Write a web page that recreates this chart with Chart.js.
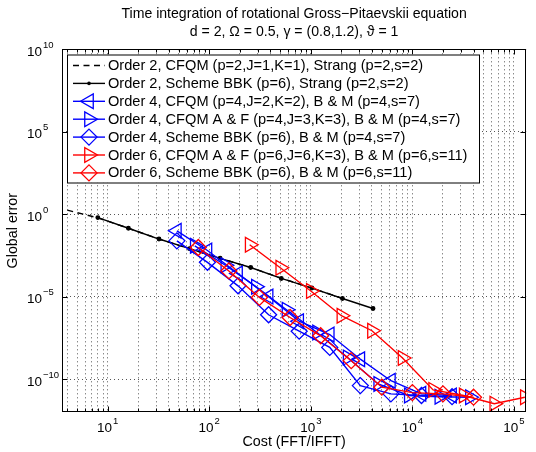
<!DOCTYPE html>
<html>
<head>
<script src="https://cdn.jsdelivr.net/npm/chart.js@4.4.0/dist/chart.umd.min.js"></script>
<style>
  body { margin: 0; background: #fff; }
  .wrap { width: 536px; height: 452px; position: relative; }
</style>
</head>
<body>
<div class="wrap"><canvas id="c"></canvas></div>
<script>
const FONT = '"Liberation Sans", Arial, Helvetica, sans-serif';

const titleLines = ['Time integration of rotational Gross\u2212Pitaevskii equation',
                    'd = 2, \u03A9 = 0.5, \u03B3 = (0.8,1.2), \u03D1 = 1'];
const xTitle = 'Cost (FFT/IFFT)';
const yTitle = 'Global error';

const seriesNames = [
  'Order 2, CFQM (p=2,J=1,K=1), Strang (p=2,s=2)',
  'Order 2, Scheme BBK (p=6), Strang (p=2,s=2)',
  'Order 4, CFQM (p=4,J=2,K=2), B & M (p=4,s=7)',
  'Order 4, CFQM A & F (p=4,J=3,K=3), B & M (p=4,s=7)',
  'Order 4, Scheme BBK (p=6), B & M (p=4,s=7)',
  'Order 6, CFQM A & F (p=6,J=6,K=3), B & M (p=6,s=11)',
  'Order 6, Scheme BBK (p=6), B & M (p=6,s=11)'
];

// cost (FFT/IFFT) and global error
const cost2Strang = [4, 8, 16, 32, 64, 128, 256, 512, 1024, 2048];
const err2Strang  = [1.75, 0.6, 0.14, 0.031, 8e-3, 2.1e-3, 5.8e-4, 1.3e-4, 3.3e-5, 7.7e-6];

const cost2BBK = [8, 16, 32, 64, 128, 256, 512, 1024, 2048, 4096];
const err2BBK  = [0.62, 0.14, 0.031, 8.1e-3, 2.1e-3, 5.8e-4, 1.26e-4, 3.3e-5, 7.7e-6, 1.9e-6];

const cost4CFQM = [48, 96, 192, 384, 768, 1536, 3072, 6144, 12288, 24576];
const err4CFQM  = [0.098, 6.3e-3, 2.5e-4, 1e-5, 3.2e-7, 5e-8, 1.6e-9, 7.9e-11, 1.26e-11, 1e-11];

const cost4AF = [72, 144, 288, 576, 1152, 2304, 4608, 9216, 18432, 36864];
const err4AF  = [0.012, 8e-4, 4e-5, 1.6e-6, 6.6e-8, 2e-9, 5e-11, 1e-11, 8.5e-12, 7.9e-12];

const cost4BBK = [48, 96, 192, 384, 768, 1536, 3072, 6144, 12288, 24576];
const err4BBK  = [0.024, 1.2e-3, 4.5e-5, 7.9e-7, 8e-8, 8.3e-9, 4e-11, 1.26e-11, 1e-11, 8.5e-12];

const cost6AF = [250, 500, 1000, 2000, 4000, 8000, 16000, 32000, 64000, 128000];
const err6AF  = [1.4e-2, 5.6e-4, 2.2e-5, 6.9e-7, 8.5e-8, 1.9e-9, 2.2e-11, 1.0e-11, 3.2e-12, 7.9e-12];

const cost6BBK = [78, 156, 312, 625, 1250, 2500, 5000, 10000, 20000, 40000];
const err6BBK  = [9.5e-3, 3.6e-4, 8.9e-6, 5.4e-7, 4.2e-8, 1.3e-9, 3.2e-11, 1.5e-11, 1.26e-11, 7.9e-12];

const xDecades = [1, 2, 3, 4, 5];      // labelled powers of ten on x
const yDecades = [10, 5, 0, -5, -10];  // labelled powers of ten on y

const pts = (xs, ys) => xs.map((v, i) => ({x: v, y: ys[i]}));

function series(label, data, color, style, rot, r, dash, order) {
  return {
    label: label,
    data: data,
    borderColor: color,
    borderWidth: 1.4,
    borderDash: dash || [],
    pointStyle: style,
    pointRotation: rot,
    pointRadius: r,
    pointBorderWidth: 1.3,
    pointBorderColor: color,
    pointBackgroundColor: style === 'circle' ? color : 'rgba(0,0,0,0)',
    fill: false,
    tension: 0,
    order: order
  };
}

const datasets = [
  series(seriesNames[0], pts(cost2Strang, err2Strang), '#000', false, 0, 0, [6, 4.5], 7),
  series(seriesNames[1], pts(cost2BBK, err2BBK), '#000', 'circle', 0, 1.8, null, 6),
  series(seriesNames[2], pts(cost4CFQM, err4CFQM), '#0000ff', 'triangle', -90, 8.5, null, 5),
  series(seriesNames[3], pts(cost4AF, err4AF), '#0000ff', 'triangle', 90, 8.5, null, 4),
  series(seriesNames[4], pts(cost4BBK, err4BBK), '#0000ff', 'rectRot', 0, 8, null, 3),
  series(seriesNames[5], pts(cost6AF, err6AF), '#ff0000', 'triangle', 90, 8.5, null, 2),
  series(seriesNames[6], pts(cost6BBK, err6BBK), '#ff0000', 'rectRot', 0, 8, null, 1)
];

function drawMarker(ctx, style, rot, r, x, y) {
  if (!style) return;
  ctx.beginPath();
  if (style === 'circle') {
    ctx.arc(x, y, r, 0, Math.PI * 2);
    ctx.fill();
    return;
  }
  if (style === 'rectRot') {
    ctx.moveTo(x, y - r); ctx.lineTo(x + r, y); ctx.lineTo(x, y + r); ctx.lineTo(x - r, y);
  } else {
    const a = rot * Math.PI / 180;
    for (let k = 0; k < 3; k++) {
      const t = a + k * 2 * Math.PI / 3;
      const px = x + Math.sin(t) * r, py = y - Math.cos(t) * r;
      if (k === 0) ctx.moveTo(px, py); else ctx.lineTo(px, py);
    }
  }
  ctx.closePath();
  ctx.stroke();
}

function powLabel(ctx, exp, x, y, align) {
  const base = '10';
  const e = String(exp).replace('-', '\u2212');
  ctx.font = '13.5px ' + FONT;
  const wb = ctx.measureText(base).width;
  ctx.font = '9.5px ' + FONT;
  const we = ctx.measureText(e).width;
  let x0 = align === 'center' ? x - (wb + we + 1) / 2 : x;
  ctx.font = '13.5px ' + FONT;
  ctx.textAlign = 'left';
  ctx.textBaseline = 'middle';
  ctx.fillText(base, x0, y);
  ctx.font = '9.5px ' + FONT;
  ctx.fillText(e, x0 + wb + 1, y - 7);
}

const axesPlugin = {
  id: 'matlabAxes',
  afterDatasetsDraw(chart) {
    const {ctx, chartArea: a, scales} = chart;
    const xs = scales.x, ys = scales.y;
    ctx.save();
    ctx.strokeStyle = '#000';
    ctx.lineWidth = 1;
    const L = Math.round(a.left) + 0.5, R = Math.round(a.right) - 0.5;
    const T = Math.round(a.top) + 0.5, B = Math.round(a.bottom) - 0.5;
    ctx.strokeRect(L, T, R - L, B - T);
    ctx.beginPath();
    xs.ticks.forEach(t => {
      const px = Math.round(xs.getPixelForValue(t.value)) + 0.5;
      const m = Math.log10(t.value);
      const len = Math.abs(m - Math.round(m)) < 1e-9 ? 5 : 3;
      ctx.moveTo(px, B); ctx.lineTo(px, B - len);
      ctx.moveTo(px, T); ctx.lineTo(px, T + len);
    });
    yDecades.forEach(d => {
      const py = Math.round(ys.getPixelForValue(Math.pow(10, d))) + 0.5;
      ctx.moveTo(L, py); ctx.lineTo(L + 5, py);
      ctx.moveTo(R, py); ctx.lineTo(R - 5, py);
    });
    ctx.stroke();

    // legend, MATLAB style: line sample with marker in the middle
    const lx = 67, ly = 54.5, lw = 412, lh = 128;
    ctx.fillStyle = '#fff';
    ctx.fillRect(lx, ly, lw, lh);
    ctx.strokeRect(lx + 0.5, ly + 0.5, lw, lh);
    chart.data.datasets.forEach((ds, i) => {
      const yy = 65.5 + i * 17.9;
      ctx.strokeStyle = ds.borderColor;
      ctx.fillStyle = ds.borderColor;
      ctx.lineWidth = ds.borderWidth;
      ctx.setLineDash(ds.borderDash);
      ctx.beginPath();
      ctx.moveTo(73, yy); ctx.lineTo(105, yy);
      ctx.stroke();
      ctx.setLineDash([]);
      ctx.lineWidth = ds.pointBorderWidth;
      drawMarker(ctx, ds.pointStyle, ds.pointRotation, ds.pointRadius, 89, yy);
      ctx.fillStyle = '#000';
      ctx.font = '14.6px ' + FONT;
      ctx.textAlign = 'left';
      ctx.textBaseline = 'middle';
      ctx.fillText(ds.label, 108, yy + 0.5);
    });
    ctx.restore();
  },
  afterDraw(chart) {
    const {ctx, chartArea: a, scales} = chart;
    ctx.save();
    ctx.fillStyle = '#000';
    xDecades.forEach(d => {
      powLabel(ctx, d, scales.x.getPixelForValue(Math.pow(10, d)), a.bottom + 16, 'center');
    });
    yDecades.forEach(d => {
      powLabel(ctx, d, 27, scales.y.getPixelForValue(Math.pow(10, d)) + 3, 'left');
    });
    ctx.font = '14.3px ' + FONT;
    ctx.textAlign = 'center';
    ctx.textBaseline = 'middle';
    ctx.fillText(xTitle, (a.left + a.right) / 2, a.bottom + 30);
    ctx.translate(13, (a.top + a.bottom) / 2);
    ctx.rotate(-Math.PI / 2);
    ctx.fillText(yTitle, 0, 0);
    ctx.restore();
  }
};

function xGridTicks(scale) {
  const out = [];
  for (let d = 0; d <= 5; d++) {
    for (let k = 1; k <= 9; k++) {
      const v = k * Math.pow(10, d);
      if (v >= scale.min && v <= scale.max) out.push({value: v});
    }
  }
  scale.ticks = out;
}

function yGridTicks(scale) {
  scale.ticks = yDecades.map(d => ({value: Math.pow(10, d)}));
}

const gridOpts = {color: '#555', lineWidth: 1, drawTicks: false};

new Chart(document.getElementById('c'), {
  type: 'line',
  data: {datasets: datasets},
  options: {
    responsive: true,
    maintainAspectRatio: false,
    animation: false,
    layout: {padding: {left: 0, right: 3, top: 0, bottom: 0}},
    plugins: {
      legend: {display: false},
      tooltip: {enabled: false},
      title: {
        display: true,
        text: titleLines,
        color: '#000',
        fullSize: false,
        font: {family: FONT, size: 14.1, weight: 'normal', lineHeight: 1.27},
        padding: {top: 5.5, bottom: 8}
      }
    },
    scales: {
      x: {
        type: 'logarithmic',
        min: 3.55,
        max: 1.32e5,
        ticks: {display: false},
        grid: gridOpts,
        border: {display: false, dash: [1, 3]},
        afterBuildTicks: xGridTicks,
        afterFit: s => { s.height = 40; }
      },
      y: {
        type: 'logarithmic',
        min: 1e-12,
        max: 1e10,
        ticks: {display: false},
        grid: gridOpts,
        border: {display: false, dash: [1, 3]},
        afterBuildTicks: yGridTicks,
        afterFit: s => { s.width = 62; }
      }
    }
  },
  plugins: [axesPlugin]
});
</script>
</body>
</html>
